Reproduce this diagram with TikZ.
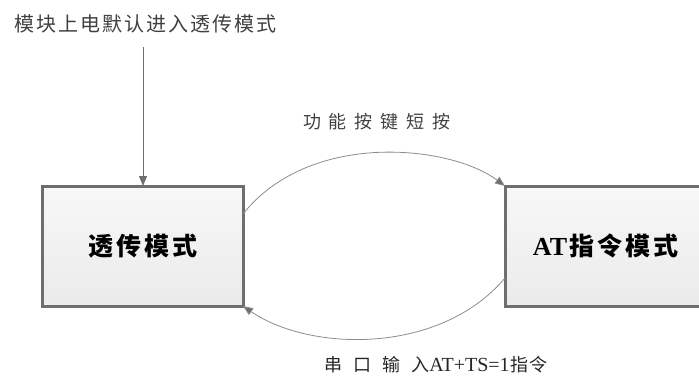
\documentclass[tikz,border=0pt]{standalone}
\usepackage{fontspec}
\usetikzlibrary{arrows.meta,shadows}
\newfontfamily\cjk{Noto Sans CJK SC}
\newfontfamily\latf{Liberation Serif}
\definecolor{boxborder}{HTML}{6E6E6E}
\definecolor{linegray}{HTML}{8C8C8C}
\definecolor{textgray}{HTML}{404040}
\tikzset{
  modebox/.style={draw=boxborder, line width=3pt, minimum width=201pt, minimum height=120pt,
    inner sep=0pt, outer sep=0pt, top color=white!97!black, bottom color=white!92!black,
    drop shadow={shadow xshift=2pt, shadow yshift=-2pt, opacity=0.15}},
  conn/.style={draw=linegray, line width=0.8pt, -{Triangle[length=10pt,width=8pt,fill=boxborder]}},
  lbl/.style={inner sep=0pt, font=\cjk},
}
\newcommand{\gp}[1]{\hspace{#1pt}}
\begin{document}
\begin{tikzpicture}[x=1pt,y=-1pt]
\useasboundingbox (0,0) rectangle (699,378);
\clip (0,0) rectangle (699,378);
\node[modebox] (lbox) at (142.5,246) {};
\node[modebox] (rbox) at (605.5,246) {};
\node[lbl, font=\cjk\bfseries\fontsize{25pt}{30pt}\selectfont] at (lbox.center) {透\gp{3}传\gp{3}模\gp{3}式};
\node[lbl, font=\cjk\bfseries\fontsize{25pt}{30pt}\selectfont] at (rbox.center) {{\latf\bfseries\fontsize{26pt}{30pt}\selectfont AT}\gp{2}指\gp{3}令\gp{3}模\gp{3}式};
\node[lbl, text=textgray, font=\cjk\fontsize{20pt}{24pt}\selectfont] (top) at (145,24) {模\gp{2}块\gp{2}上\gp{2}电\gp{2}默\gp{2}认\gp{2}进\gp{2}入\gp{2}透\gp{2}传\gp{2}模\gp{2}式};
\coordinate (start) at (143,47);
\draw[draw=boxborder, line width=1pt, -{Triangle[length=10pt,width=8pt]}] (start) -- (lbox.north -| start);
\node[lbl, text=textgray, font=\cjk\fontsize{18pt}{22pt}\selectfont] (toplbl) at (377,122) {功\gp{8}能\gp{8}按\gp{8}键\gp{8}短\gp{8}按};
\node[lbl, text=black!85, font=\cjk\fontsize{18pt}{22pt}\selectfont] (botlbl) at (436,365) {串\gp{11}口\gp{11}输\gp{11}入{\latf\fontsize{20pt}{24pt}\selectfont AT+TS=1}\gp{1}指\gp{1}令};
\draw[conn] ([yshift=-28pt]lbox.north east) .. controls (310,130) and (450,145) .. (rbox.north west);
\draw[conn] ([yshift=-92pt]rbox.north west) .. controls (440,355) and (310,352) .. (lbox.south east);
\end{tikzpicture}
\end{document}
